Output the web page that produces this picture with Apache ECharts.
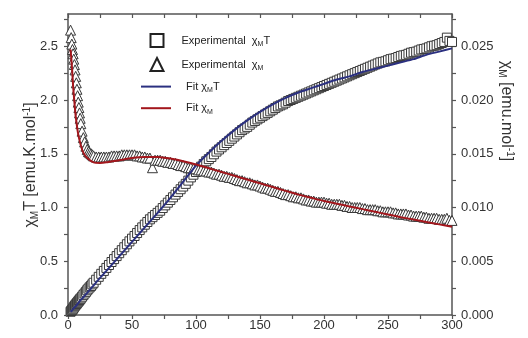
<!DOCTYPE html>
<html><head><meta charset="utf-8">
<script src="https://cdn.jsdelivr.net/npm/echarts@6/dist/echarts.min.js"></script>
<style>html,body{margin:0;padding:0;background:#fff}#c{width:528px;height:338px}</style>
</head><body><div id="c"></div>
<script>
// Temperatures of the experimental points (K)
const tExp = [2,2.5,3,3.5,4,4.5,5,5.5,6,6.5,7,7.5,8,8.5,9,9.5,10,11,12,13,14,15,16,17,18,19,20,
22,24,26,28,30,32,34,36,38,40,42,44,46,48,50,52,54,56,58,60,62,64,66,68,70,72,74,76,78,80,
82,84,86,88,90,92,94,96,98,100,102,104,106,108,110,112,114,116,118,120,122,124,126,128,130,132,134,136,138,140,
142,144,146,148,150,152,154,156,158,160,162,164,166,168,170,172,174,176,178,180,182,184,186,188,190,192,194,196,198,200,
202,204,206,208,210,212,214,216,218,220,222,224,226,228,230,232,234,236,238,240,242,244,246,248,250,252,254,256,258,260,
262,264,266,268,270,272,274,276,278,280,282,284,286,288,290,292,294,296,298,300];
// Experimental chiM*T (emu.K/mol)
const chiTExp = [0.03,0.037,0.045,0.052,0.06,0.07,0.08,0.087,0.095,0.102,0.11,0.117,0.125,0.132,0.14,0.147,0.155,0.17,0.185,0.20,0.215,0.23,0.245,0.258,0.27,0.285,0.30,
0.328,0.355,0.383,0.41,0.438,0.465,0.493,0.52,0.548,0.575,0.603,0.63,0.658,0.685,0.71,0.735,0.763,0.79,0.815,0.84,0.865,0.89,0.91,0.93,0.95,0.97,0.995,1.02,1.045,1.07,
1.095,1.12,1.145,1.17,1.195,1.22,1.25,1.28,1.305,1.33,1.355,1.38,1.405,1.43,1.45,1.47,1.495,1.52,1.54,1.56,1.58,1.60,1.62,1.64,1.66,1.68,1.70,1.72,1.735,1.75,
1.77,1.79,1.805,1.82,1.835,1.85,1.865,1.88,1.895,1.91,1.925,1.94,1.95,1.96,1.975,1.99,2.00,2.01,2.02,2.03,2.04,2.05,2.06,2.07,2.08,2.09,2.10,2.11,2.12,2.13,
2.14,2.15,2.16,2.17,2.18,2.19,2.20,2.21,2.22,2.23,2.24,2.25,2.26,2.27,2.28,2.29,2.30,2.31,2.32,2.33,2.34,2.35,2.355,2.36,2.37,2.38,2.385,2.39,2.40,2.41,
2.415,2.42,2.43,2.44,2.445,2.45,2.46,2.47,2.475,2.48,2.49,2.50,2.505,2.51,2.52,2.53,2.54,2.58,2.55,2.54];
// Experimental chiM (emu/mol)
const chiExp = [0.0265,0.0258,0.0252,0.0247,0.0243,0.0238,0.0233,0.0228,0.0222,0.0216,0.0210,0.0204,0.0198,0.0193,0.0188,0.0183,0.0178,0.0171,0.0165,0.0161,0.0157,0.0154,0.0152,0.0151,0.0150,0.0149,0.0148,
0.0147,0.0147,0.0147,0.0147,0.0147,0.0147,0.0148,0.0148,0.0148,0.0148,0.0149,0.0149,0.0149,0.0149,0.0149,0.0149,0.0148,0.0148,0.0147,0.0147,0.0146,0.0146,0.0137,0.0144,0.0144,0.0144,0.0143,0.0143,0.0142,0.0142,
0.0141,0.0141,0.0140,0.0139,0.0139,0.0138,0.0137,0.0137,0.0136,0.0136,0.0135,0.0135,0.0134,0.0134,0.0133,0.0133,0.0132,0.0131,0.0131,0.0130,0.0129,0.0129,0.0128,0.0128,0.0127,0.0126,0.0125,0.0125,0.0124,0.0123,
0.0123,0.0122,0.0121,0.0121,0.0120,0.0119,0.0118,0.0118,0.0117,0.0116,0.0115,0.0115,0.0114,0.0113,0.0112,0.0112,0.0111,0.0110,0.0110,0.0109,0.0109,0.0108,0.0107,0.0107,0.0106,0.0106,0.0105,0.0105,0.0105,0.0105,
0.0104,0.0104,0.0103,0.0103,0.0103,0.0103,0.0102,0.0102,0.0101,0.0101,0.0100,0.0100,0.0100,0.0100,0.0099,0.0099,0.0098,0.0098,0.0098,0.0098,0.0097,0.0097,0.0096,0.0096,0.0096,0.0096,0.0095,0.0095,0.0094,0.0094,
0.0094,0.0094,0.0093,0.0093,0.0092,0.0092,0.0092,0.0092,0.0091,0.0091,0.0090,0.0090,0.0090,0.0090,0.0089,0.0089,0.0089,0.0090,0.0088,0.0088];
// Fit curves
const tFit = [2,3,4,5,6,8,10,12,15,20,25,30,40,50,60,70,80,90,100,110,120,130,140,150,160,170,180,190,200,210,220,230,240,250,260,270,280,290,300];
const chiTFit = [0.03,0.04,0.055,0.07,0.08,0.11,0.14,0.165,0.205,0.275,0.345,0.41,0.545,0.68,0.815,0.95,1.09,1.24,1.39,1.51,1.62,1.72,1.81,1.89,1.96,2.02,2.07,2.11,2.15,2.19,2.22,2.26,2.29,2.32,2.35,2.38,2.42,2.45,2.48];
const chiFit = [0.0247,0.0232,0.0213,0.0198,0.0185,0.0168,0.0158,0.0151,0.0146,0.0142,0.01415,0.0142,0.0144,0.0146,0.0147,0.0147,0.01455,0.0143,0.0140,0.01365,0.0133,0.01295,0.0126,0.01225,0.0119,0.01155,0.0112,0.0109,0.0106,0.01035,0.0101,0.00985,0.0096,0.00935,0.0091,0.00888,0.00865,0.00843,0.0082];
// Ticks
const xLabels = [0,50,100,150,200,250,300];
const xTickAll = [0,25,50,75,100,125,150,175,200,225,250,275,300];
const yLeftLabels = [0,0.5,1.0,1.5,2.0,2.5];
const yLeftTickAll = [0,0.25,0.5,0.75,1.0,1.25,1.5,1.75,2.0,2.25,2.5,2.75];
const yRightLabels = [0,0.005,0.010,0.015,0.020,0.025];
const yRightTickAll = [0,0.0025,0.005,0.0075,0.010,0.0125,0.015,0.0175,0.020,0.0225,0.025,0.0275];

const FONT = 'Liberation Sans, Arial, sans-serif';
const axisCol = '#555';
const zip = (a, b) => a.map((v, i) => [v, b[i]]);

const chart = echarts.init(document.getElementById('c'), null, {renderer: 'canvas'});

const legendRich = {
  t: {fontSize: 11, fontFamily: FONT, color: '#222', lineHeight: 14},
  g: {fontSize: 11, fontFamily: FONT, color: '#222', lineHeight: 14},
  s: {fontSize: 7, fontFamily: FONT, color: '#222', lineHeight: 8, verticalAlign: 'bottom'}
};
const legendFmt = {
  'Experimental χMT': '{t|Experimental  }{g|χ}{s|M}{t|T}',
  'Experimental χM': '{t|Experimental  }{g|χ}{s|M}',
  'Fit χMT': '{t|Fit }{g|χ}{s|M}{t|T}',
  'Fit χM': '{t|Fit }{g|χ}{s|M}'
};

const titleRich = {
  a: {fontSize: 16, fontFamily: FONT, fill: '#333', lineHeight: 18},
  s: {fontSize: 10, fontFamily: FONT, fill: '#333', lineHeight: 10, verticalAlign: 'bottom'},
  p: {fontSize: 10, fontFamily: FONT, fill: '#333', lineHeight: 10, verticalAlign: 'top'}
};

const hiddenSym = {color: 'rgba(0,0,0,0)', borderColor: 'rgba(0,0,0,0)', borderWidth: 0, opacity: 0};

chart.setOption({
  animation: false,
  backgroundColor: '#fff',
  grid: {left: 68, right: 76, top: 14, bottom: 23, containLabel: false},
  xAxis: [{
    type: 'value', position: 'bottom', min: 0, max: 300,
    axisLine: {onZero: false, lineStyle: {color: axisCol, width: 1.5}},
    axisTick: {inside: false, length: 4, customValues: xTickAll, lineStyle: {color: axisCol, width: 1.2}},
    axisLabel: {customValues: xLabels, fontSize: 13, fontFamily: FONT, color: '#333', margin: 4},
    splitLine: {show: false}
  }, {
    type: 'value', position: 'top', min: 0, max: 300,
    axisLine: {onZero: false, lineStyle: {color: axisCol, width: 1.5}},
    axisTick: {inside: true, length: 4, customValues: xTickAll, lineStyle: {color: axisCol, width: 1.2}},
    axisLabel: {show: false},
    splitLine: {show: false}
  }],
  yAxis: [{
    type: 'value', position: 'left', min: 0, max: 2.8,
    axisLine: {show: true, onZero: false, lineStyle: {color: axisCol, width: 1.5}},
    axisTick: {show: true, inside: false, length: 4, customValues: yLeftTickAll, lineStyle: {color: axisCol, width: 1.2}},
    axisLabel: {customValues: yLeftLabels, fontSize: 13, fontFamily: FONT, color: '#333', margin: 10,
      formatter: v => v.toFixed(1)},
    splitLine: {show: false}
  }, {
    type: 'value', position: 'right', min: 0, max: 0.028,
    axisLine: {show: true, onZero: false, lineStyle: {color: axisCol, width: 1.5}},
    axisTick: {show: true, inside: false, length: 4, customValues: yRightTickAll, lineStyle: {color: axisCol, width: 1.2}},
    axisLabel: {customValues: yRightLabels, fontSize: 13, fontFamily: FONT, color: '#333', margin: 9,
      formatter: v => v.toFixed(3)},
    splitLine: {show: false}
  }],
  legend: [{
    orient: 'vertical', left: 144.5, top: 28, itemWidth: 13, itemHeight: 13, itemGap: 9,
    textStyle: {rich: legendRich, padding: [0, 0, 0, 13]},
    formatter: n => legendFmt[n],
    data: [
      {name: 'Experimental χMT', icon: 'rect', itemStyle: {color: '#fff', borderColor: '#222', borderWidth: 2}},
      {name: 'Experimental χM', icon: 'triangle', itemStyle: {color: '#fff', borderColor: '#222', borderWidth: 2}}
    ]
  }, {
    orient: 'vertical', left: 135, top: 76, itemWidth: 30, itemHeight: 14, itemGap: 9,
    textStyle: {rich: legendRich, padding: [0, 0, 0, 10]},
    formatter: n => legendFmt[n],
    data: [
      {name: 'Fit χMT', itemStyle: hiddenSym},
      {name: 'Fit χM', itemStyle: hiddenSym}
    ]
  }],
  graphic: [{
    type: 'text', x: 31, y: 165, rotation: Math.PI / 2,
    style: {text: '{a|χ}{s|M}{a|T [emu.K.mol}{p|-1}{a|]}', rich: titleRich, align: 'center', verticalAlign: 'middle', fill: '#333'}
  }, {
    type: 'text', x: 506, y: 111, rotation: -Math.PI / 2,
    style: {text: '{a|χ}{s|M}{a| [emu.mol}{p|-1}{a|]}', rich: titleRich, align: 'center', verticalAlign: 'middle', fill: '#333'}
  }],
  series: [{
    name: 'Experimental χMT', type: 'scatter', xAxisIndex: 0, yAxisIndex: 0,
    symbol: 'rect', symbolSize: 9,
    itemStyle: {color: '#fff', borderColor: '#383838', borderWidth: 1, opacity: 1},
    data: zip(tExp, chiTExp), z: 2
  }, {
    name: 'Experimental χM', type: 'scatter', xAxisIndex: 0, yAxisIndex: 1,
    symbol: 'triangle', symbolSize: 10,
    itemStyle: {color: '#fff', borderColor: '#383838', borderWidth: 1, opacity: 1},
    data: zip(tExp, chiExp), z: 2
  }, {
    name: 'Fit χMT', type: 'line', xAxisIndex: 0, yAxisIndex: 0,
    symbol: 'none', showSymbol: false, smooth: 0.2,
    lineStyle: {color: '#2b3080', width: 2}, itemStyle: {color: '#2b3080'},
    data: zip(tFit, chiTFit), z: 3
  }, {
    name: 'Fit χM', type: 'line', xAxisIndex: 0, yAxisIndex: 1,
    symbol: 'none', showSymbol: false, smooth: 0.2,
    lineStyle: {color: '#a3161c', width: 2}, itemStyle: {color: '#a3161c'},
    data: zip(tFit, chiFit), z: 3
  }]
});
</script>
</body></html>
